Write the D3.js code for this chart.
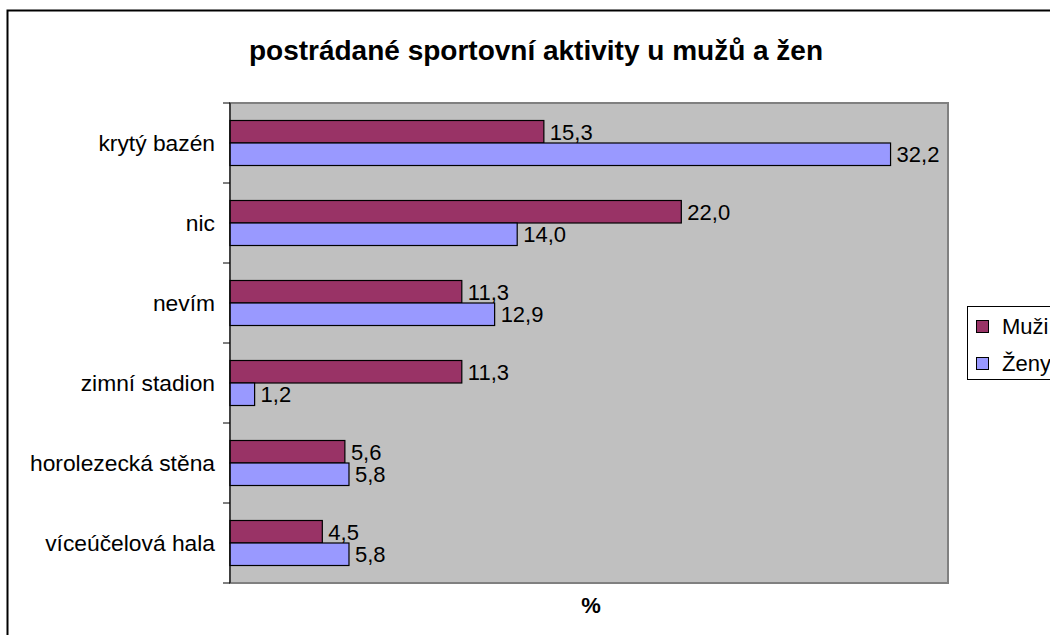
<!DOCTYPE html>
<html>
<head>
<meta charset="utf-8">
<script src="https://cdn.jsdelivr.net/npm/d3@7"></script>
<style>
  body { margin: 0; background: #fff; }
  svg text { font-family: Arial, "Liberation Sans", sans-serif; }
</style>
</head>
<body>
<div id="chart"></div>
<script>
// data
var categories = ["krytý bazén", "nic", "nevím", "zimní stadion", "horolezecká stěna", "víceúčelová hala"];
var series = ["Muži", "Ženy"];
var muzi = [15.3, 22.0, 11.3, 11.3, 5.6, 4.5];
var zeny = [32.2, 14.0, 12.9, 1.2, 5.8, 5.8];
var colors = ["#993366", "#9999FF"];

var W = 1050, H = 635;
var margin = {top: 103, right: 102, bottom: 52, left: 230},
    width = W - margin.left - margin.right,
    height = H - margin.top - margin.bottom;

var svg = d3.select("#chart")
    .append("svg")
    .attr("width", W)
    .attr("height", H);

// outer chart border
svg.append("rect")
    .attr("x", 7.5).attr("y", 10.5)
    .attr("width", 1100).attr("height", 700)
    .attr("fill", "none").attr("stroke", "#000").attr("stroke-width", 2);

svg.append("text")
    .attr("x", 536).attr("y", 60)
    .attr("text-anchor", "middle")
    .style("font-size", "28px").style("font-weight", "bold")
    .text("postrádané sportovní aktivity u mužů a žen");

var g = svg.append("g")
    .attr("transform", `translate(${margin.left},${margin.top})`);

// plot area
g.append("rect")
    .attr("width", width).attr("height", height)
    .attr("fill", "#C0C0C0").attr("stroke", "#808080").attr("stroke-width", 2);

var x = d3.scaleLinear().domain([0, 35]).range([0, width]);
var y = d3.scaleBand().domain(categories).range([0, height]);
var ySub = d3.scaleBand().domain(series)
    .range([y.bandwidth() / 2 - 22.5, y.bandwidth() / 2 + 22.5]);

var rows = categories.map((c, i) => ({cat: c, values: [muzi[i], zeny[i]]}));

var groups = g.append("g")
    .selectAll("g")
    .data(rows)
    .join("g")
    .attr("transform", d => `translate(0,${y(d.cat)})`);

var cells = groups.selectAll("g")
    .data(d => d.values.map((v, j) => ({key: series[j], value: v, j: j})))
    .join("g");

cells.append("rect")
    .attr("x", 0)
    .attr("y", d => ySub(d.key))
    .attr("width", d => x(d.value))
    .attr("height", ySub.bandwidth())
    .attr("fill", d => colors[d.j])
    .attr("stroke", "#000").attr("stroke-width", 1.2);

cells.append("text")
    .attr("x", d => x(d.value) + 6)
    .attr("y", d => ySub(d.key) + ySub.bandwidth() / 2)
    .attr("dy", "0.36em")
    .style("font-size", "22px")
    .style("fill", "#000")
    .text(d => d3.format(".1f")(d.value).replace(".", ","));

// y axis: ticks at band boundaries, labels at band centres
var yAxis = g.append("g");
yAxis.append("line")
    .attr("x1", 0).attr("x2", 0).attr("y1", 0).attr("y2", height)
    .attr("stroke", "#000");
yAxis.selectAll(".tk")
    .data(d3.range(categories.length + 1))
    .join("line")
    .attr("x1", -7).attr("x2", 0)
    .attr("y1", i => i * y.step()).attr("y2", i => i * y.step())
    .attr("stroke", "#000");
yAxis.selectAll("text")
    .data(categories)
    .join("text")
    .attr("x", -15)
    .attr("y", d => y(d) + y.bandwidth() / 2)
    .attr("dy", "0.36em")
    .attr("text-anchor", "end")
    .style("font-size", "22.8px")
    .text(d => d);

svg.append("text")
    .attr("x", 591).attr("y", 613)
    .attr("text-anchor", "middle")
    .style("font-size", "22px").style("font-weight", "bold")
    .text("%");

// legend
var legend = svg.append("g").attr("transform", "translate(967,306)");
legend.append("rect")
    .attr("x", 0.5).attr("y", 0.5).attr("width", 120).attr("height", 73)
    .attr("fill", "#fff").attr("stroke", "#000");
series.forEach(function(s, i) {
    legend.append("rect")
        .attr("x", 9.5).attr("y", 14.5 + i * 37)
        .attr("width", 12).attr("height", 12)
        .attr("fill", colors[i]).attr("stroke", "#000");
    legend.append("text")
        .attr("x", 35).attr("y", 20 + i * 37)
        .attr("dy", "0.36em")
        .style("font-size", "22px")
        .text(s);
});
</script>
</body>
</html>
